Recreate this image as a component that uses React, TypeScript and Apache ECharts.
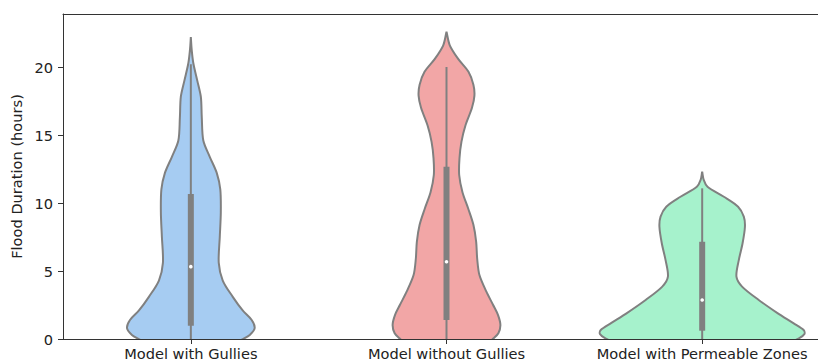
import React, { useEffect, useRef } from "react";
import * as echarts from "echarts";

const categories = ["Model with Gullies", "Model without Gullies", "Model with Permeable Zones"];
const fillColors = ["#a6ccf2", "#f2a6a6", "#a6f2cc"];

// KDE outline: value levels (hours) and relative density (1 = widest)
const levels1 = [-1.2, -0.8, -0.4, 0, 0.3, 0.8, 1.4, 2.1, 3.1, 4.3, 5.6, 7.5, 9.3, 11.0, 12.2, 13.4, 14.6, 16.3, 17.8, 19.0, 20.3, 21.3, 22.2];
const density1 = [0, 0.24, 0.41, 0.51, 0.576, 0.624, 0.595, 0.507, 0.41, 0.312, 0.273, 0.283, 0.293, 0.288, 0.254, 0.185, 0.122, 0.107, 0.098, 0.063, 0.024, 0.008, 0];

const levels2 = [-1.2, -0.8, -0.4, 0.05, 0.42, 1.03, 1.76, 2.5, 3.48, 4.7, 5.9, 7.15, 8.4, 9.6, 10.8, 12.06, 13.3, 14.5, 15.7, 17.0, 17.9, 18.7, 19.65, 20.6, 21.6, 22.6];
const density2 = [0, 0.22, 0.38, 0.46, 0.507, 0.527, 0.504, 0.456, 0.39, 0.322, 0.3, 0.29, 0.263, 0.212, 0.156, 0.124, 0.127, 0.146, 0.185, 0.249, 0.273, 0.263, 0.215, 0.114, 0.032, 0];

const levels3 = [-1.0, -0.6, -0.25, 0.05, 0.37, 0.66, 1.15, 1.89, 2.87, 3.85, 4.58, 5.8, 7.04, 8.26, 9.0, 9.73, 10.46, 11.2, 11.7, 12.3];
const density3 = [0, 0.55, 0.85, 0.946, 1.0, 0.992, 0.895, 0.74, 0.553, 0.39, 0.335, 0.358, 0.395, 0.418, 0.407, 0.351, 0.212, 0.052, 0.015, 0];

// box statistics
const q1 = [0.98, 1.4, 0.61];
const medians = [5.32, 5.68, 2.87];
const q3 = [10.66, 12.67, 7.15];
const whiskerLow = [-1, -1, -1];
const whiskerHigh = [20.2, 20.0, 11.08];

const yTicks = [0, 5, 10, 15, 20];
const xTicks = [0, 1, 2];

const allLevels = [levels1, levels2, levels3];
const allDensity = [density1, density2, density3];

export default function App() {
  const ref = useRef<HTMLDivElement>(null);
  useEffect(() => {
    if (!ref.current) return;
    const chart = echarts.init(ref.current, null, { renderer: "svg" });
    const font = "DejaVu Sans";
    const gray = "#808080";
    const xMin = -0.5;
    const xMax = 2.453;
    chart.setOption({
      animation: false,
      grid: { left: 63, top: 14, right: 0, height: 325, show: false, containLabel: false },
      xAxis: [
        {
          type: "value",
          min: xMin,
          max: xMax,
          axisLine: { show: true, onZero: false, lineStyle: { color: "#333", width: 1 } },
          axisTick: { show: true, length: 5, customValues: xTicks, lineStyle: { color: "#333" } },
          axisLabel: {
            fontFamily: font,
            fontSize: 14.6,
            color: "#222",
            margin: 7,
            customValues: xTicks,
            formatter: (v: number) => categories[Math.round(v)] ?? "",
          },
          splitLine: { show: false },
        },
        {
          type: "value",
          position: "top",
          min: xMin,
          max: xMax,
          axisLine: { show: true, onZero: false, lineStyle: { color: "#333", width: 1 } },
          axisTick: { show: false },
          axisLabel: { show: false },
          splitLine: { show: false },
        },
      ],
      yAxis: {
        type: "value",
        min: 0,
        max: 23.9,
        name: "Flood Duration (hours)",
        nameLocation: "middle",
        nameGap: 35,
        nameTextStyle: { fontFamily: font, fontSize: 14.6, color: "#222" },
        axisLine: { show: true, onZero: false, lineStyle: { color: "#333", width: 1 } },
        axisTick: { show: true, length: 5, customValues: yTicks, lineStyle: { color: "#333" } },
        axisLabel: { fontFamily: font, fontSize: 14.6, color: "#222", margin: 10, customValues: yTicks },
        splitLine: { show: false },
      },
      series: [
        {
          type: "custom",
          clip: true,
          xAxisIndex: 0,
          data: categories.map((_, i) => [i, 0]),
          renderItem: (params: any, api: any) => {
            const i = api.value(0);
            const lv = allLevels[i];
            const dn = allDensity[i];
            const band = api.size([1, 0])[0];
            const half = band * 0.4;
            const cx = api.coord([i, 0])[0];
            const right = lv.map((y, k) => [cx + dn[k] * half, api.coord([i, y])[1]]);
            const left = lv.map((y, k) => [cx - dn[k] * half, api.coord([i, y])[1]]).reverse();
            const pts = right.concat(left);
            const yq1 = api.coord([i, q1[i]])[1];
            const yq3 = api.coord([i, q3[i]])[1];
            const ymed = api.coord([i, medians[i]])[1];
            const ylo = api.coord([i, whiskerLow[i]])[1];
            const yhi = api.coord([i, whiskerHigh[i]])[1];
            return {
              type: "group",
              children: [
                {
                  type: "polygon",
                  shape: { points: pts, smooth: 0.3 },
                  style: { fill: fillColors[i], stroke: gray, lineWidth: 2 },
                },
                {
                  type: "line",
                  shape: { x1: cx, y1: ylo, x2: cx, y2: yhi },
                  style: { stroke: gray, lineWidth: 2 },
                },
                {
                  type: "rect",
                  shape: { x: cx - 3, y: yq3, width: 6, height: yq1 - yq3 },
                  style: { fill: gray },
                },
                {
                  type: "circle",
                  shape: { cx, cy: ymed, r: 1.8 },
                  style: { fill: "#ffffff" },
                },
              ],
            };
          },
        },
      ],
    });
    return () => chart.dispose();
  }, []);
  return <div ref={ref} style={{ position: "absolute", left: 0, top: 0, width: 818, height: 362 }} />;
}
